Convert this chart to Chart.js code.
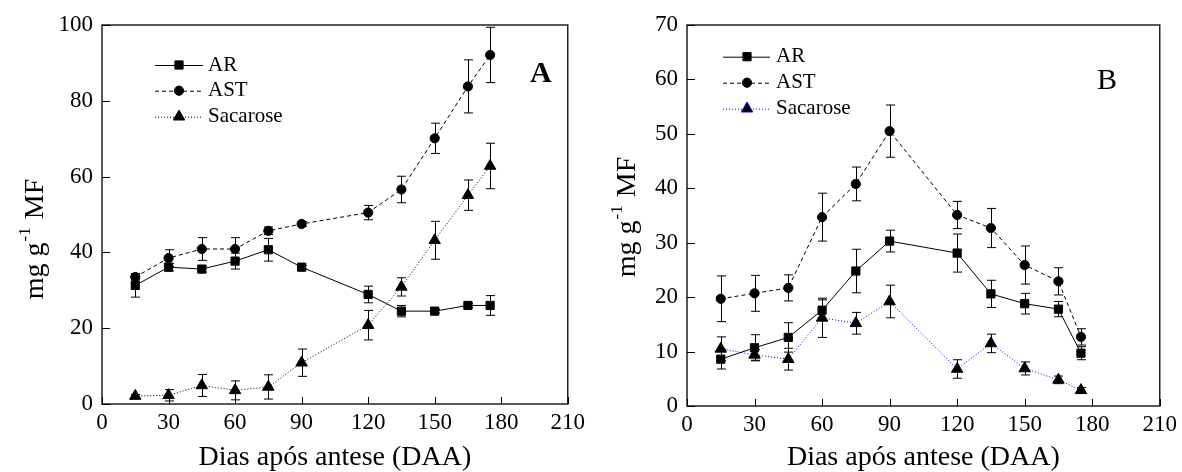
<!DOCTYPE html>
<html>
<head>
<meta charset="utf-8">
<script src="https://cdn.jsdelivr.net/npm/chart.js@4.4.0/dist/chart.umd.min.js"></script>
<style>
  html, body { margin: 0; padding: 0; background: #fff; }
  #wrap { position: relative; width: 1182px; height: 472px; }
  .panel { position: absolute; top: 0; }
  #pa { left: 0; }
  #pb { left: 590px; }
</style>
</head>
<body>
<div id="wrap">
  <div class="panel" id="pa"><canvas id="chartA" width="590" height="472"></canvas></div>
  <div class="panel" id="pb"><canvas id="chartB" width="592" height="472"></canvas></div>
</div>
<script>
// dias após antese
const days = [15, 30, 45, 60, 75, 90, 120, 135, 150, 165, 175];

// painel A
const arA = [31.3, 36.1, 35.6, 37.7, 40.7, 36.1, 28.9, 24.5, 24.5, 26.0, 26.0];
const arAErr = [3.1, 1.0, 0.8, 2.1, 3.0, 0.5, 2.2, 1.5, 0.5, 0.5, 2.6];
const astA = [33.5, 38.5, 40.9, 40.9, 45.7, 47.5, 50.5, 56.6, 70.1, 83.8, 92.1];
const astAErr = [0.8, 2.2, 3.0, 3.0, 1.0, 0.6, 1.9, 3.5, 4.0, 7.0, 7.3];
const sacA = [2.1, 2.3, 4.9, 3.6, 4.5, 10.9, 20.8, 30.9, 43.2, 55.1, 62.8];
const sacAErr = [0.4, 1.5, 2.9, 2.5, 3.2, 3.6, 3.9, 2.4, 5.0, 4.0, 6.0];

// painel B
const arB = [8.6, 10.7, 12.6, 17.6, 24.8, 30.3, 28.1, 20.6, 18.8, 17.8, 9.7];
const arBErr = [1.8, 2.4, 2.7, 1.9, 4.0, 2.0, 3.5, 2.5, 1.9, 1.4, 1.2];
const astB = [19.7, 20.7, 21.7, 34.7, 40.8, 50.5, 35.1, 32.7, 25.9, 22.9, 12.7];
const astBErr = [4.2, 3.3, 2.4, 4.4, 3.1, 4.8, 2.5, 3.6, 3.5, 2.5, 1.5];
const sacB = [10.5, 9.4, 8.6, 16.2, 15.2, 19.2, 6.8, 11.5, 6.9, 4.8, 2.9];
const sacBErr = [2.2, 1.0, 2.0, 3.6, 2.0, 3.0, 1.7, 1.7, 1.2, 0.7, 0.5];

const seriesNames = ['AR', 'AST', 'Sacarose'];
const serif = "'Liberation Serif', 'Times New Roman', serif";

function pts(vals) {
  return vals.map((v, i) => ({ x: days[i], y: v }));
}

// barras de erro, moldura, ticks para dentro, legenda, letra e titulo do eixo y
const extras = {
  id: 'extras',
  beforeDatasetsDraw(chart) {
    const ctx = chart.ctx, xs = chart.scales.x, ys = chart.scales.y;
    ctx.save();
    ctx.strokeStyle = '#000';
    ctx.lineWidth = 1;
    chart.data.datasets.forEach(ds => {
      ds.data.forEach((p, i) => {
        const e = ds.errors[i];
        const px = Math.round(xs.getPixelForValue(p.x)) + 0.5;
        const y1 = ys.getPixelForValue(p.y + e), y2 = ys.getPixelForValue(p.y - e);
        ctx.beginPath();
        ctx.moveTo(px, y1); ctx.lineTo(px, y2);
        ctx.moveTo(px - 4.5, y1); ctx.lineTo(px + 4.5, y1);
        ctx.moveTo(px - 4.5, y2); ctx.lineTo(px + 4.5, y2);
        ctx.stroke();
      });
    });
    ctx.restore();
  },
  afterDraw(chart, args, o) {
    const ctx = chart.ctx, a = chart.chartArea;
    const xs = chart.scales.x, ys = chart.scales.y;
    ctx.save();
    // moldura
    ctx.strokeStyle = '#222';
    ctx.lineWidth = 1.5;
    ctx.strokeRect(a.left, a.top, a.right - a.left, a.bottom - a.top);
    // ticks para dentro
    ctx.lineWidth = 1;
    ctx.strokeStyle = '#000';
    ctx.beginPath();
    xs.ticks.forEach(t => {
      const px = Math.round(xs.getPixelForValue(t.value)) + 0.5;
      ctx.moveTo(px, a.bottom); ctx.lineTo(px, a.bottom - 7);
    });
    ys.ticks.forEach(t => {
      const py = Math.round(ys.getPixelForValue(t.value)) + 0.5;
      ctx.moveTo(a.left, py); ctx.lineTo(a.left + 8, py);
    });
    ctx.stroke();

    // legenda
    const lg = o.legend;
    ctx.font = '21px ' + serif;
    ctx.textBaseline = 'middle';
    ctx.textAlign = 'left';
    chart.data.datasets.forEach((ds, i) => {
      const y = lg.rows[i];
      ctx.strokeStyle = ds.borderColor;
      ctx.lineWidth = 1;
      ctx.setLineDash(ds.borderDash || []);
      ctx.beginPath();
      ctx.moveTo(lg.x1, y + 0.5); ctx.lineTo(lg.x2, y + 0.5);
      ctx.stroke();
      ctx.setLineDash([]);
      ctx.fillStyle = '#000';
      Chart.helpers.drawPoint(ctx, {
        pointStyle: ds.pointStyle, radius: ds.pointRadius, rotation: 0, borderWidth: 1
      }, lg.mx, y);
      ctx.fillStyle = '#000';
      ctx.fillText(ds.label, lg.tx, y);
    });

    // letra do painel
    ctx.fillStyle = '#000';
    ctx.font = o.letter.font;
    ctx.textAlign = 'left';
    ctx.textBaseline = 'alphabetic';
    ctx.fillText(o.letter.text, o.letter.x, o.letter.y);

    // titulo do eixo y com expoente
    const t = o.ytitle;
    const big = '28px ' + serif, small = '17px ' + serif;
    ctx.translate(t.x, t.y);
    ctx.rotate(-Math.PI / 2);
    ctx.font = big;
    const w1 = ctx.measureText('mg g').width;
    const w3 = ctx.measureText(' MF').width;
    ctx.font = small;
    const w2 = ctx.measureText('-1').width + 2;
    let cx = -(w1 + w2 + w3) / 2;
    ctx.font = big;
    ctx.fillText('mg g', cx, 0);
    cx += w1 + 1;
    ctx.font = small;
    ctx.fillText('-1', cx, -13);
    cx += w2 - 1;
    ctx.font = big;
    ctx.fillText(' MF', cx, 0);
    ctx.restore();
  }
};

function makeChart(id, cfg) {
  const mk = (label, vals, errs, style, radius, color, dash) => ({
    label: label,
    data: pts(vals),
    errors: errs,
    borderColor: color,
    borderWidth: 1,
    borderDash: dash,
    pointStyle: style,
    pointRadius: radius,
    pointHoverRadius: radius,
    pointBackgroundColor: '#000',
    pointBorderColor: '#000',
    pointBorderWidth: 1,
    fill: false,
    tension: 0,
    showLine: true
  });
  return new Chart(document.getElementById(id), {
    type: 'scatter',
    data: {
      datasets: [
        mk(seriesNames[0], cfg.ar, cfg.arErr, 'rect', 5.8, '#000', []),
        mk(seriesNames[1], cfg.ast, cfg.astErr, 'circle', 4.6, '#000', [4, 3]),
        mk(seriesNames[2], cfg.sac, cfg.sacErr, 'triangle', 6.6, cfg.sacColor, [1, 2])
      ]
    },
    options: {
      responsive: false,
      animation: false,
      devicePixelRatio: 1,
      layout: { padding: { left: 0, top: 25, right: cfg.padRight, bottom: 0 } },
      plugins: {
        legend: { display: false },
        tooltip: { enabled: false },
        extras: { legend: cfg.legend, letter: cfg.letter, ytitle: cfg.ytitle }
      },
      scales: {
        x: {
          type: 'linear', min: 0, max: 210,
          grid: { display: false, drawTicks: false },
          border: { display: false },
          ticks: { stepSize: 30, padding: 5, color: '#000', font: { family: serif, size: 23 } },
          title: {
            display: true, text: 'Dias após antese (DAA)', color: '#000',
            font: { family: serif, size: 28, lineHeight: 1 }, padding: { top: 0, bottom: 0 }
          },
          afterFit(s) { s.height = cfg.xHeight; }
        },
        y: {
          type: 'linear', min: 0, max: cfg.yMax,
          grid: { display: false, drawTicks: false },
          border: { display: false },
          ticks: { stepSize: cfg.yStep, padding: 9, color: '#000', font: { family: serif, size: 23 } },
          afterFit(s) { s.width = cfg.yWidth; }
        }
      }
    },
    plugins: [extras]
  });
}

makeChart('chartA', {
  ar: arA, arErr: arAErr, ast: astA, astErr: astAErr, sac: sacA, sacErr: sacAErr,
  sacColor: '#000', yMax: 100, yStep: 20, yWidth: 102, xHeight: 68, padRight: 17,
  legend: { x1: 155, x2: 203, mx: 179, tx: 208, rows: [65, 90.7, 116.7] },
  letter: { text: 'A', font: 'bold 30px ' + serif, x: 530, y: 82 },
  ytitle: { x: 43, y: 239 }
});

makeChart('chartB', {
  ar: arB, arErr: arBErr, ast: astB, astErr: astBErr, sac: sacB, sacErr: sacBErr,
  sacColor: '#0000ff', yMax: 70, yStep: 10, yWidth: 97, xHeight: 66, padRight: 20,
  legend: { x1: 133, x2: 180, mx: 157, tx: 186, rows: [56.7, 82.7, 108.7] },
  letter: { text: 'B', font: '30px ' + serif, x: 507, y: 89 },
  ytitle: { x: 45, y: 217 }
});
</script>
</body>
</html>
